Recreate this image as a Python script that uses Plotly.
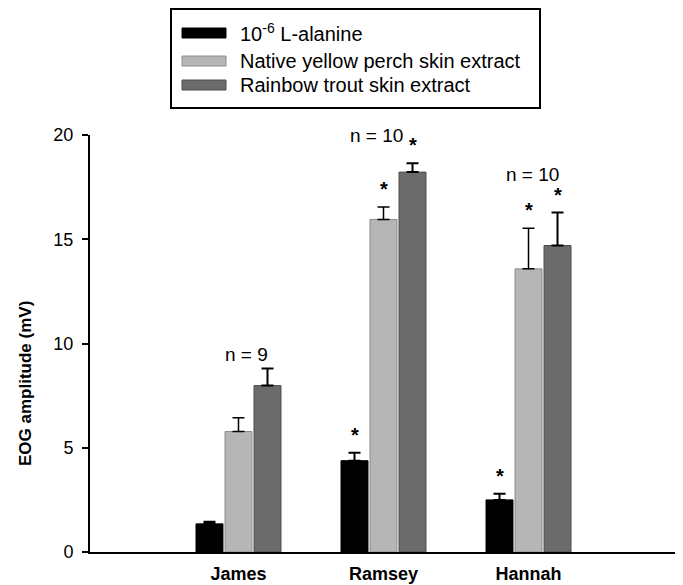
import plotly.graph_objects as go

# ---- data ----
groups = ["James", "Ramsey", "Hannah"]
series_names = ["10<sup>-6</sup> L-alanine", "Native yellow perch skin extract", "Rainbow trout skin extract"]
alanine = [1.35, 4.38, 2.50]
alanine_err = [0.10, 0.38, 0.29]
perch = [5.78, 15.95, 13.58]
perch_err = [0.66, 0.60, 1.95]
trout = [7.98, 18.22, 14.70]
trout_err = [0.82, 0.43, 1.58]
sig_alanine = [False, True, True]
sig_perch = [False, True, True]
sig_trout = [False, True, True]
n_labels = ["n = 9", "n = 10", "n = 10"]
n_label_x = [0.055, 0.95, 2.03]
n_label_y = [9.47, 20.0, 18.1]
y_ticks = [0, 5, 10, 15, 20]

values = [alanine, perch, trout]
errors = [alanine_err, perch_err, trout_err]
sigs = [sig_alanine, sig_perch, sig_trout]
fills = ["#000000", "#b6b6b6", "#6b6b6b"]
edges = ["#000000", "#8c8c8c", "#4c4c4c"]
err_thick = [2, 1.5, 2]

FONT = "Liberation Sans, Arial, sans-serif"
BARGAP = 0.4

# page offset from the default body margin
OFF = 8
PAGE_W, PAGE_H = 683, 585
FIG_W, FIG_H = PAGE_W - OFF, PAGE_H - OFF

fig = go.Figure()
for i in range(3):
    fig.add_trace(go.Bar(
        x=groups, y=values[i], name=series_names[i],
        marker=dict(color=fills[i], line=dict(color=edges[i], width=1)),
        error_y=dict(type="data", symmetric=False, array=errors[i],
                     arrayminus=[0] * len(groups), color="black",
                     thickness=err_thick[i], width=6),
        showlegend=False,
    ))

# plot area in page pixels (for layout helpers)
L, R, T, B = 90, 677, 135, 552
W, H = R - L, B - T
def px(x):
    return (x - L) / W
def py(y):
    return (B - y) / H

annotations = []
shapes = []

# significance stars
slot = (1 - BARGAP) / 3
for i in range(3):
    for g in range(len(groups)):
        if sigs[i][g]:
            annotations.append(dict(
                x=g + (i - 1) * slot, y=values[i][g] + errors[i][g],
                xref="x", yref="y", text="*", showarrow=False,
                yanchor="middle", yshift=18,
                font=dict(family=FONT, size=20, color="black", weight="bold"),
            ))

# n labels
for g in range(len(groups)):
    annotations.append(dict(
        x=n_label_x[g], y=n_label_y[g], xref="x", yref="y",
        text=n_labels[g], showarrow=False, yanchor="middle",
        font=dict(family=FONT, size=19, color="black"),
    ))

# y-axis title
annotations.append(dict(
    x=px(25), y=py(384), xref="paper", yref="paper",
    text="EOG amplitude (mV)", textangle=-90, showarrow=False,
    xanchor="center", yanchor="middle",
    font=dict(family=FONT, size=17, color="black", weight="bold"),
))

# legend (drawn box with wide swatches)
shapes.append(dict(type="rect", xref="paper", yref="paper",
                   x0=px(171), x1=px(540), y0=py(108), y1=py(9),
                   line=dict(color="black", width=2), fillcolor="white"))
rows = [(28, 38, 33), (56, 66, 61), (80, 90, 85)]
for i, (top, bot, cy) in enumerate(rows):
    shapes.append(dict(type="rect", xref="paper", yref="paper",
                       x0=px(182), x1=px(226), y0=py(bot), y1=py(top),
                       line=dict(color=edges[i], width=1), fillcolor=fills[i]))
    annotations.append(dict(
        x=px(238), y=py(cy), xref="paper", yref="paper",
        text=series_names[i], showarrow=False, xanchor="left", yanchor="middle",
        font=dict(family=FONT, size=20, color="black"),
    ))

fig.update_layout(
    width=FIG_W, height=FIG_H,
    margin=dict(l=L - OFF, r=PAGE_W - R, t=T - OFF, b=PAGE_H - B, autoexpand=False),
    paper_bgcolor="white", plot_bgcolor="white",
    barmode="group", bargap=BARGAP, bargroupgap=0.07,
    font=dict(family=FONT, color="black"),
    xaxis=dict(
        range=[-1.024, 3.024], showline=True, linecolor="black", linewidth=2,
        ticks="", showgrid=False, zeroline=False, automargin=False,
        tickfont=dict(family=FONT, size=18, color="black", weight="bold"),
        ticklabelstandoff=4,
    ),
    yaxis=dict(
        range=[0, 20], tickvals=y_ticks, showline=True, linecolor="black",
        linewidth=2, ticks="outside", ticklen=6, tickwidth=2, tickcolor="black",
        showgrid=False, zeroline=False, automargin=False,
        tickfont=dict(family=FONT, size=18, color="black"),
        ticklabelstandoff=5,
    ),
    annotations=annotations,
    shapes=shapes,
)

fig.write_html("out.html")
